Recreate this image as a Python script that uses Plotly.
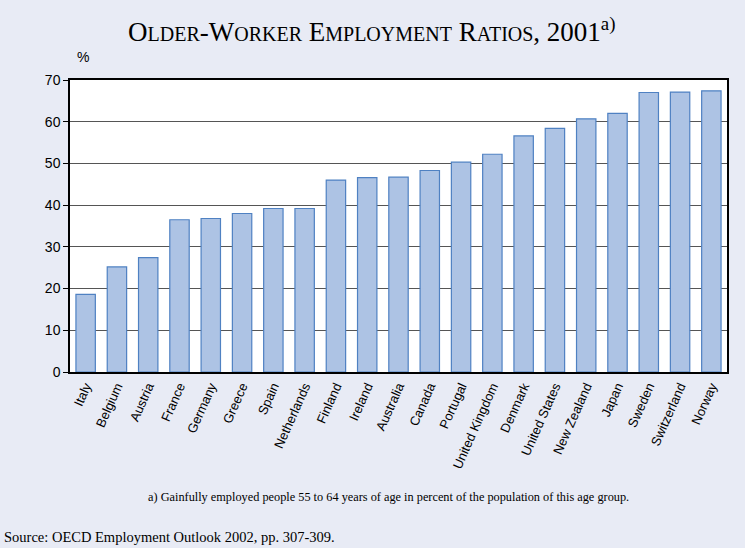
import plotly.graph_objects as go

countries = ["Italy", "Belgium", "Austria", "France", "Germany", "Greece", "Spain",
             "Netherlands", "Finland", "Ireland", "Australia", "Canada", "Portugal",
             "United Kingdom", "Denmark", "United States", "New Zealand", "Japan",
             "Sweden", "Switzerland", "Norway"]
ratios = [18.6, 25.2, 27.4, 36.5, 36.8, 38.0, 39.2, 39.2, 46.0, 46.6, 46.7, 48.3,
          50.3, 52.2, 56.6, 58.4, 60.7, 62.0, 67.0, 67.1, 67.4]
y_ticks = [0, 10, 20, 30, 40, 50, 60, 70]

fig = go.Figure(go.Bar(
    x=countries, y=ratios,
    marker=dict(color="#adc3e4", line=dict(color="#4f81c2", width=1.2)),
    hoverinfo="x+y",
))

sc = "font-size:20px"
title = ("O<span style='%s'>LDER</span>-W<span style='%s'>ORKER</span> "
         "E<span style='%s'>MPLOYMENT</span> R<span style='%s'>ATIOS</span>, 2001<sup>a)</sup>") % (sc, sc, sc, sc)

serif = "Liberation Serif, Times New Roman"
fig.update_layout(
    width=745, height=548,
    paper_bgcolor="#e8ebf5", plot_bgcolor="white",
    margin=dict(l=70, r=18, t=80, b=176),
    bargap=0.38,
    showlegend=False,
    font=dict(family="Liberation Sans, Arial", color="black", size=14),
    xaxis=dict(
        tickangle=-66, tickfont=dict(size=13), showline=True, linecolor="black",
        linewidth=1.5, mirror=True, ticks="", showgrid=False,
    ),
    yaxis=dict(
        range=[0, 70], tickvals=y_ticks, showline=True, linecolor="black",
        linewidth=1.5, mirror=True, gridcolor="#555555", gridwidth=1,
        ticks="outside", ticklen=5, tickcolor="black", zeroline=False,
        tickfont=dict(size=14),
    ),
    annotations=[
        dict(text=title, x=0, xref="paper", y=1, yref="paper", xshift=302, yshift=50,
             showarrow=False, font=dict(family=serif, size=27),
             xanchor="center", yanchor="middle"),
        dict(text="%", xref="paper", yref="paper", x=0, y=1, showarrow=False,
             xshift=13, yshift=23, font=dict(size=14), xanchor="center", yanchor="middle"),
        dict(text="a) Gainfully employed people 55 to 64 years of age in percent of the population of this age group.",
             xref="paper", yref="paper", x=0, y=0, xshift=318, yshift=-125, showarrow=False,
             font=dict(family=serif, size=12.3), xanchor="center", yanchor="middle"),
        dict(text="Source: OECD Employment Outlook 2002, pp. 307-309.",
             xref="paper", yref="paper", x=0, y=0, xshift=-68, yshift=-165, showarrow=False,
             font=dict(family=serif, size=14.5), xanchor="left", yanchor="middle"),
    ],
)

fig.write_html("out.html", config={"displayModeBar": False})

with open("out.html", "r", encoding="utf-8") as f:
    html = f.read()
html = html.replace("<body>", "<body style=\"margin:0;padding:0;overflow:hidden\">", 1)
with open("out.html", "w", encoding="utf-8") as f:
    f.write(html)
